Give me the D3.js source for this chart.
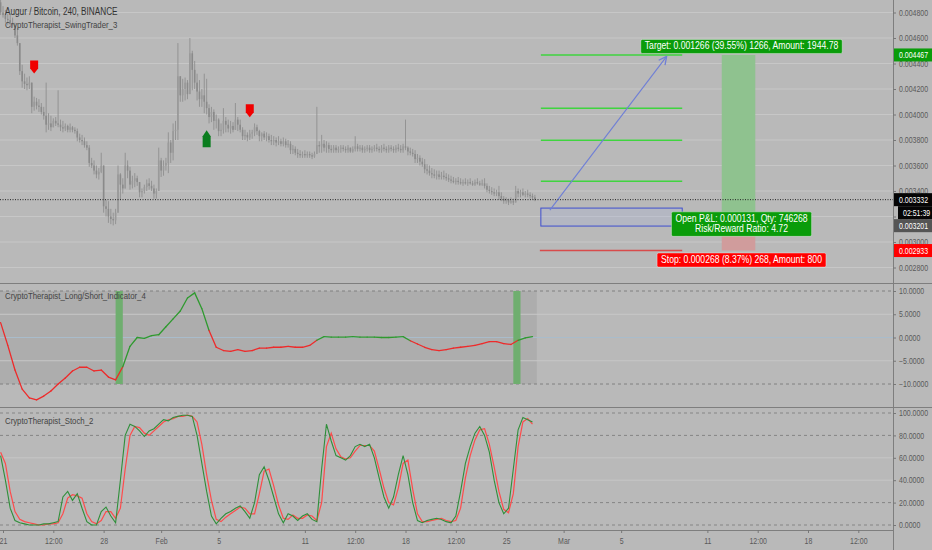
<!DOCTYPE html>
<html><head><meta charset="utf-8">
<script src="https://cdn.jsdelivr.net/npm/d3@7"></script>
<style>
html,body{margin:0;padding:0;background:#b9b9b9;}
svg{display:block;font-family:'Liberation Sans',Arial,sans-serif;}
</style></head><body><svg id="c" width="932" height="550"></svg>
<script>
// ---------- DATA ----------
const symbolTitle = "Augur / Bitcoin, 240, BINANCE";
const studyTitles = ["CryptoTherapist_SwingTrader_3", "CryptoTherapist_Long/Short_Indicator_4", "CryptoTherapist_Stoch_2"];
// 4h candles starting 2018-01-20 20:00 UTC; prices in micro-BTC (1e-6)
const candleStart = Date.UTC(2018, 0, 20, 20);
const candleHours = 4;
const firstOpen = 4880;
const closes = [
4800,4780,4750,4740,4720,4700,4620,4560,4340,4260,
4240,4230,4250,4060,4100,4070,4060,4020,3990,3920,
3930,3900,3950,3930,3920,3900,3890,3910,3880,3900,
3880,3870,3820,3800,3790,3760,3740,3620,3600,3560,
3530,3550,3600,3280,3260,3200,3180,3170,3230,3530,
3450,3420,3600,3560,3450,3480,3500,3470,3390,3400,
3430,3460,3440,3420,3380,3400,3640,3560,3600,3620,
3780,3700,3870,3880,4300,4150,4200,4250,4160,4480,
4350,4250,4180,4120,4150,4100,4050,3980,4020,3950,
3960,3870,3880,3950,3920,3890,3910,3880,3960,3920,
3880,3830,3840,3820,3850,3860,3900,3870,3830,3850,
3820,3830,3800,3790,3800,3780,3790,3770,3790,3760,
3770,3720,3730,3700,3690,3680,3690,3680,3690,3680,
3670,3690,3760,3750,3770,3740,3760,3730,3720,3740,
3720,3730,3740,3730,3720,3740,3710,3730,3750,3730,
3740,3720,3730,3740,3720,3730,3740,3730,3720,3740,
3730,3720,3740,3730,3720,3740,3730,3720,3750,3740,
3710,3700,3690,3650,3660,3630,3610,3570,3560,3540,
3530,3520,3530,3510,3520,3510,3500,3490,3480,3470,
3480,3470,3460,3470,3460,3470,3460,3450,3470,3460,
3450,3460,3440,3410,3400,3390,3380,3390,3360,3340,
3320,3330,3310,3320,3310,3400,3380,3390,3370,3380,
3370,3360,3350,3332];
const highs = [
4900,4850,4820,4790,4780,4760,4720,4680,4530,4390,
4320,4290,4300,4220,4140,4130,4120,4090,4060,4250,
4010,3990,3970,3980,4190,3960,3950,3930,3920,3930,
3910,3900,3890,3850,3840,3820,3790,3760,3660,3640,
3600,3580,3700,3420,3330,3320,3260,3230,3260,3600,
3540,3500,3700,3640,3590,3520,3540,3520,3460,3420,
3450,3490,3500,3480,3450,3420,3740,3660,3640,3660,
3860,3800,3930,3950,4560,4290,4280,4290,4270,4600,
4500,4420,4320,4270,4200,4320,4280,4080,4060,4040,
4000,3970,3930,4050,3980,3960,3950,3940,4090,3980,
3960,3900,3880,3860,3880,3880,3930,3920,3880,3860,
3870,3860,3850,3840,3830,3820,3830,3810,3820,3810,
3800,3790,3760,3750,3730,3720,3710,3720,3710,3710,
3700,3710,4060,3790,3840,3800,3790,3780,3760,3760,
3760,3750,3760,3760,3750,3760,3740,3750,3830,3770,
3760,3760,3750,3760,3760,3750,3760,3770,3750,3760,
3770,3750,3760,3760,3750,3760,3770,3760,3770,3960,
3750,3740,3730,3720,3690,3680,3660,3650,3610,3600,
3580,3570,3560,3560,3550,3560,3540,3530,3520,3510,
3500,3510,3500,3490,3500,3490,3500,3480,3490,3500,
3480,3490,3500,3460,3440,3430,3420,3410,3440,3390,
3360,3350,3340,3350,3340,3440,3420,3410,3420,3400,
3410,3390,3380,3370];
const lows = [
4780,4760,4720,4700,4690,4680,4600,4540,4310,4210,
4200,4190,4200,4010,4030,4040,4020,4000,3960,3860,
3880,3870,3910,3910,3900,3870,3860,3870,3860,3860,
3860,3850,3790,3780,3760,3740,3720,3590,3580,3530,
3500,3490,3540,3230,3200,3150,3140,3130,3140,3320,
3330,3380,3450,3500,3410,3420,3430,3440,3350,3350,
3380,3400,3410,3400,3340,3340,3400,3510,3520,3560,
3540,3620,3640,3800,3800,4100,4100,4110,4120,4240,
4190,4200,4110,4060,4060,4010,4000,3930,3940,3880,
3890,3830,3830,3850,3860,3860,3850,3860,3880,3870,
3860,3800,3800,3790,3800,3810,3830,3840,3790,3790,
3800,3790,3780,3760,3760,3750,3760,3750,3750,3740,
3740,3690,3690,3680,3660,3660,3660,3660,3660,3660,
3650,3660,3690,3700,3700,3710,3700,3700,3700,3700,
3700,3700,3700,3710,3700,3700,3700,3700,3710,3710,
3710,3700,3700,3710,3700,3700,3710,3710,3700,3700,
3710,3700,3700,3710,3700,3700,3710,3700,3700,3720,
3680,3680,3670,3620,3620,3600,3590,3540,3530,3520,
3500,3500,3490,3490,3490,3490,3480,3470,3460,3460,
3450,3450,3450,3440,3450,3440,3450,3440,3440,3450,
3440,3440,3420,3390,3380,3370,3360,3360,3330,3320,
3300,3300,3290,3300,3290,3320,3350,3350,3360,3350,
3350,3340,3330,3320];

// SwingTrader signal markers (candle index, tip price, type)
const markerIdx = [14, 104, 86];
const markerPrice = [4322, 3978, 3876];
const markerType = ["sell", "sell", "buy"];

// Long/Short indicator, sampled every 3 candles
const lsStep = 3;
const lsValues = [3.2,-1.7,-7.0,-11.1,-13.0,-13.4,-12.6,-11.5,-10.0,-8.7,
-7.2,-6.4,-6.4,-7.2,-7.0,-8.5,-9.1,-6.3,-1.9,0.0,
-0.2,0.4,0.6,2.3,4.0,5.7,8.5,9.6,6.2,1.5,
-2.1,-2.8,-3.0,-2.6,-3.0,-2.8,-2.3,-2.3,-2.1,-2.1,
-1.9,-2.1,-2.1,-1.7,-0.6,0.2,0.1,0.1,0.1,0.2,
0.1,0.1,0.1,0.0,0.0,0.1,0.2,-0.7,-1.4,-2.1,
-2.6,-2.8,-2.6,-2.3,-2.1,-1.9,-1.7,-1.3,-0.9,-0.9,
-1.3,-1.5,-0.6,-0.1,0.2];
const lsLongRanges = [[51, 87], [132, 171], [216, 223]];
const lsSignalBands = [[48, 51], [214, 217]];

// Stochastic K / D, sampled every 2 candles
const stStep = 2;
const stochK = [62,40,15,4,2,1,0,0,0,1, 1,2,3,25,30,22,28,15,3,0,
0,12,16,8,2,40,80,90,88,84, 79,84,86,90,94,93,96,97,98,98,
97,80,55,30,8,1,6,10,12,15, 17,12,6,20,45,52,40,25,10,2,
10,8,4,8,10,5,3,50,90,75, 62,60,58,62,70,72,70,72,60,42,
25,15,25,45,62,45,20,4,2,4, 5,6,5,3,2,8,30,55,70,82,
88,80,65,40,20,10,15,50,85,96, 94,92];
const stochD = [65,55,30,12,5,3,2,1,0,0, 1,1,2,10,24,27,26,24,10,3,
1,4,12,12,6,15,50,80,88,87, 82,80,84,88,92,94,95,97,97,98,
97,92,72,45,22,5,3,7,10,13, 16,15,10,10,28,48,50,35,18,6,
5,9,6,6,9,8,4,20,70,82, 68,61,59,60,66,71,71,71,66,50,
33,20,18,33,55,58,32,10,3,3, 4,5,6,4,3,4,15,42,62,76,
85,86,72,52,30,14,11,28,70,92, 95,90];

// Trade drawing (micro-BTC)
const lastPrice = 3332;
const countdownText = "02:51:39";
const entryPrice = 3201, targetPrice = 4467, stopPrice = 2933;
const levelPrices = [4467, 4049, 3798, 3477];
const levelSpan = [Date.UTC(2018,1,27,10), Date.UTC(2018,2,9,6)];
const entryBox = [3125, 3266];
const arrowFrom = [Date.UTC(2018,1,28,1), 3250];
const arrowTo = [Date.UTC(2018,2,8,4), 4456];
const positionSpan = [Date.UTC(2018,2,12,0), Date.UTC(2018,2,14,8)];
const targetText = "Target: 0.001266 (39.55%) 1266, Amount: 1944.78";
const pnlText = ["Open P&L: 0.000131, Qty: 746268", "Risk/Reward Ratio: 4.72"];
const stopText = "Stop: 0.000268 (8.37%) 268, Amount: 800";

// Axes
const priceTicks = [2800,3000,3200,3400,3600,3800,4000,4200,4400,4600,4800];
const lsTicks = [-10,-5,0,5,10];
const stochTicks = [0,20,40,60,80,100];
const timeTicks = [Date.UTC(2018,0,21),Date.UTC(2018,0,24,12),Date.UTC(2018,0,28),Date.UTC(2018,1,1),
  Date.UTC(2018,1,5),Date.UTC(2018,1,11),Date.UTC(2018,1,14,12),Date.UTC(2018,1,18),Date.UTC(2018,1,21,12),
  Date.UTC(2018,1,25),Date.UTC(2018,2,1),Date.UTC(2018,2,5),Date.UTC(2018,2,11),Date.UTC(2018,2,14,12),
  Date.UTC(2018,2,18),Date.UTC(2018,2,21,12)];
const timeLabels = ["21","12:00","28","Feb","5","11","12:00","18","12:00","25","Mar","5","11","12:00","18","12:00"];

// ---------- LAYOUT ----------
const W = 932, H = 550, AX = 893, NARROW = 0.82;
const C = {bg:"#b9b9b9", grid:"#c7c7c7", sep:"#7e7e7e", txt:"#5a5a5a", candle:"#8e8e8e",
  green:"#2f9a2f", red:"#ff4040", labGreen:"#0a9c0a"};
const svg = d3.select("#c");
svg.append("rect").attr("width",W).attr("height",H).attr("fill",C.bg);

const x = d3.scaleUtc().domain([Date.UTC(2018,0,21), Date.UTC(2018,2,18)]).range([3, 808]);
const yP = d3.scaleLinear().domain([2800, 4800]).range([267.5, 12.5]);
const yL = d3.scaleLinear().domain([-10, 10]).range([384, 291]);
const yS = d3.scaleLinear().domain([0, 100]).range([525, 413]);
const tOf = i => new Date(candleStart + i*candleHours*3600e3);

const defs = svg.append("defs");
defs.append("clipPath").attr("id","cp1").append("rect").attr("x",0).attr("y",0).attr("width",AX).attr("height",283);
defs.append("clipPath").attr("id","cp2").append("rect").attr("x",0).attr("y",284).attr("width",AX).attr("height",122);
defs.append("clipPath").attr("id","cp3").append("rect").attr("x",0).attr("y",408).attr("width",AX).attr("height",122);
defs.append("marker").attr("id","arr").attr("viewBox","0 0 10 10").attr("refX",9).attr("refY",5)
  .attr("markerWidth",9).attr("markerHeight",9).attr("orient","auto-start-reverse")
  .append("path").attr("d","M1,1 L9,5 L1,9").attr("fill","none").attr("stroke","#6f7fd6").attr("stroke-width",1.3);

// ---------- MAIN PANE ----------
const main = svg.append("g").attr("clip-path","url(#cp1)");
main.selectAll("line.g").data(priceTicks).join("line").attr("class","g")
  .attr("x1",0).attr("x2",AX).attr("y1",d=>yP(d)).attr("y2",d=>yP(d)).attr("stroke",C.grid);

const candles = closes.map((c,i)=>{
  const o = i===0 ? firstOpen : closes[i-1];
  return {t:tOf(i), o, c, h:Math.max(highs[i],o,c), l:Math.min(lows[i],o,c)};
});
const cg = main.append("g");
cg.selectAll("line").data(candles).join("line")
  .attr("x1",d=>x(d.t)).attr("x2",d=>x(d.t)).attr("y1",d=>yP(d.h)).attr("y2",d=>yP(d.l))
  .attr("stroke",C.candle).attr("stroke-width",0.9);
cg.selectAll("rect").data(candles).join("rect")
  .attr("x",d=>x(d.t)-0.8).attr("width",1.6)
  .attr("y",d=>yP(Math.max(d.o,d.c))).attr("height",d=>Math.max(1,Math.abs(yP(d.o)-yP(d.c))))
  .attr("fill",d=>d.c>=d.o?"#9a9a9a":"#8a8a8a");

// markers
markerIdx.forEach((ci,k)=>{
  const cx = x(tOf(ci)), ty = yP(markerPrice[k]);
  const d = markerType[k]==="sell"
    ? `M${cx-4},${ty-13} h8 v8 l-4,5 l-4,-5 z`
    : `M${cx},${ty} l4,6 v11 h-8 v-11 z`;
  main.append("path").attr("d",d).attr("fill",markerType[k]==="sell"?"#f00000":"#0a7d1e");
});

// trade levels
levelPrices.forEach(p=>{
  main.append("line").attr("x1",x(levelSpan[0])).attr("x2",x(levelSpan[1]))
    .attr("y1",yP(p)).attr("y2",yP(p)).attr("stroke","#3fd43f").attr("stroke-width",1.6);
});
main.append("line").attr("x1",x(levelSpan[0])-1).attr("x2",x(levelSpan[1]))
  .attr("y1",yP(stopPrice)).attr("y2",yP(stopPrice)).attr("stroke","#d84b4b").attr("stroke-width",1.6);
main.append("rect").attr("x",x(levelSpan[0])).attr("width",x(levelSpan[1])-x(levelSpan[0]))
  .attr("y",yP(entryBox[1])).attr("height",yP(entryBox[0])-yP(entryBox[1]))
  .attr("fill","rgba(170,180,215,0.3)").attr("stroke","#3f4fd0").attr("stroke-width",1);
main.append("line").attr("x1",x(arrowFrom[0])).attr("y1",yP(arrowFrom[1]))
  .attr("x2",x(arrowTo[0])).attr("y2",yP(arrowTo[1]))
  .attr("stroke","#6f7fd6").attr("stroke-width",1.1).attr("marker-end","url(#arr)");

// position tool
const px0 = x(positionSpan[0]), px1 = x(positionSpan[1]), pcx = (px0+px1)/2;
main.append("rect").attr("x",px0).attr("width",px1-px0).attr("y",yP(targetPrice))
  .attr("height",yP(entryPrice)-yP(targetPrice)).attr("fill","#8fc28f");
main.append("rect").attr("x",px0).attr("width",px1-px0).attr("y",yP(entryPrice))
  .attr("height",yP(stopPrice)-yP(entryPrice)).attr("fill","#d09c9c");

// current price dotted line
main.append("line").attr("x1",0).attr("x2",AX).attr("y1",yP(lastPrice)).attr("y2",yP(lastPrice))
  .attr("stroke","#222").attr("stroke-dasharray","1,1.5");

// narrow text helper (emulates a condensed UI font)
function narrow(sel){
  sel.each(function(){
    const L = this.getComputedTextLength();
    if(L>0) d3.select(this).attr("textLength",L*NARROW).attr("lengthAdjust","spacingAndGlyphs");
  });
  return sel;
}

// labels on the position tool
function boxLabel(lines, cx, top, fill){
  const g = svg.append("g");
  const lh = 10.5;
  const texts = lines.map((s,i)=>narrow(g.append("text").attr("x",cx).attr("y",top+10+i*lh)
    .attr("text-anchor","middle").attr("fill","#fff").attr("font-size",10.5).text(s)));
  const w = d3.max(texts,t=>+t.attr("textLength")) + 8;
  g.insert("rect","text").attr("x",cx-w/2).attr("y",top).attr("width",w).attr("height",lines.length*lh+3.5)
    .attr("rx",1.5).attr("fill",fill).attr("stroke","rgba(255,255,255,0.45)").attr("stroke-width",0.8);
}
boxLabel([targetText], pcx+3, yP(targetPrice)-15.5, C.labGreen);
boxLabel(pnlText, pcx+3, yP(entryPrice)-4.5, C.labGreen);
boxLabel([stopText], pcx+3, yP(stopPrice)+2.5, "#ff0000");

// titles
narrow(svg.append("text").attr("x",5).attr("y",15).attr("font-size",10).attr("fill","#333").text(symbolTitle));
narrow(svg.append("text").attr("x",5).attr("y",28).attr("font-size",9.5).attr("fill","#444").text(studyTitles[0]));

// ---------- LONG/SHORT PANE ----------
const ls = svg.append("g").attr("clip-path","url(#cp2)");
ls.append("rect").attr("x",0).attr("width",x(tOf(closes.length-1))+2).attr("y",yL(10)).attr("height",yL(-10)-yL(10)).attr("fill","#adadad");
ls.selectAll("line.g").data([5,-5]).join("line").attr("class","g")
  .attr("x1",0).attr("x2",AX).attr("y1",d=>yL(d)).attr("y2",d=>yL(d)).attr("stroke",C.grid);
ls.append("line").attr("x1",0).attr("x2",AX).attr("y1",yL(0)).attr("y2",yL(0)).attr("stroke","#a9bccb");
ls.selectAll("line.d").data([10,-10]).join("line").attr("class","d")
  .attr("x1",0).attr("x2",AX).attr("y1",d=>yL(d)).attr("y2",d=>yL(d))
  .attr("stroke","#808080").attr("stroke-dasharray","3,3");
ls.selectAll("rect.band").data(lsSignalBands).join("rect").attr("class","band")
  .attr("x",d=>x(tOf(d[0]))).attr("width",d=>x(tOf(d[1]))-x(tOf(d[0])))
  .attr("y",yL(10)).attr("height",yL(-10)-yL(10)).attr("fill","#6fae6f");
const lsPts = lsValues.map((v,k)=>({i:k*lsStep, v}));
const isLong = i => lsLongRanges.some(r=>i>=r[0] && i<r[1]);
for(let k=0;k<lsPts.length-1;k++){
  const a=lsPts[k], b=lsPts[k+1];
  ls.append("line").attr("x1",x(tOf(a.i))).attr("y1",yL(a.v)).attr("x2",x(tOf(b.i))).attr("y2",yL(b.v))
    .attr("stroke",isLong(a.i)?C.green:"#ee2a2a").attr("stroke-width",1.3).attr("stroke-linecap","round");
}
narrow(svg.append("text").attr("x",5).attr("y",299).attr("font-size",9.5).attr("fill","#444").text(studyTitles[1]));

// ---------- STOCH PANE ----------
const st = svg.append("g").attr("clip-path","url(#cp3)");
st.selectAll("line.g").data([60,40]).join("line").attr("class","g")
  .attr("x1",0).attr("x2",AX).attr("y1",d=>yS(d)).attr("y2",d=>yS(d)).attr("stroke",C.grid);
st.selectAll("line.d").data([100,80,20,0]).join("line").attr("class","d")
  .attr("x1",0).attr("x2",AX).attr("y1",d=>yS(d)).attr("y2",d=>yS(d))
  .attr("stroke","#858585").attr("stroke-dasharray","3,3");
const stLine = d3.line().x((d,k)=>x(tOf(k*stStep))).y(d=>yS(d));
st.append("path").attr("d",stLine(stochD)).attr("fill","none").attr("stroke","#ff4b4b").attr("stroke-width",1.2);
st.append("path").attr("d",stLine(stochK)).attr("fill","none").attr("stroke","#2f8f3a").attr("stroke-width",1.1);
narrow(svg.append("text").attr("x",5).attr("y",424).attr("font-size",9.5).attr("fill","#444").text(studyTitles[2]));

// ---------- SEPARATORS & AXES ----------
[283.5, 407.5].forEach(yy=>svg.append("line").attr("x1",0).attr("x2",W).attr("y1",yy).attr("y2",yy).attr("stroke",C.sep));
svg.append("line").attr("x1",0).attr("x2",AX).attr("y1",530.5).attr("y2",530.5).attr("stroke",C.sep);
svg.append("line").attr("x1",AX+0.5).attr("x2",AX+0.5).attr("y1",0).attr("y2",H).attr("stroke",C.sep);

function styleAxis(fs){
  return g=>{
    g.select(".domain").remove();
    g.selectAll(".tick line").attr("stroke","#777");
    narrow(g.selectAll(".tick text").attr("fill",C.txt).attr("font-size",fs).attr("font-family","inherit"));
  };
}
svg.append("g").attr("transform",`translate(${AX},0)`)
  .call(d3.axisRight(yP).tickValues(priceTicks).tickFormat(d=>(d/1e6).toFixed(6)).tickSize(3).tickPadding(3)).call(styleAxis(8.5));
svg.append("g").attr("transform",`translate(${AX},0)`)
  .call(d3.axisRight(yL).tickValues(lsTicks).tickFormat(d3.format(".4f")).tickSize(3).tickPadding(3)).call(styleAxis(8.5));
svg.append("g").attr("transform",`translate(${AX},0)`)
  .call(d3.axisRight(yS).tickValues(stochTicks).tickFormat(d3.format(".4f")).tickSize(3).tickPadding(3)).call(styleAxis(8.5));
svg.append("g").attr("transform","translate(0,530)")
  .call(d3.axisBottom(x).tickValues(timeTicks.map(t=>new Date(t))).tickFormat((d,i)=>timeLabels[i]).tickSize(3).tickPadding(5)).call(styleAxis(8.5));

// price labels on right axis
function axisLabel(yc, text, fill, x0){
  svg.append("rect").attr("x",x0).attr("y",yc-6.5).attr("width",W-x0).attr("height",13).attr("fill",fill);
  narrow(svg.append("text").attr("x",x0+5).attr("y",yc+3.2).attr("font-size",8.5).attr("fill","#fff").text(text));
}
const fmtP = p=>(p/1e6).toFixed(6);
axisLabel(yP(targetPrice), fmtP(targetPrice), C.labGreen, AX+1);
const yLast = yP(lastPrice);
axisLabel(yLast, fmtP(lastPrice), "#050505", AX+1);
axisLabel(yLast+13, countdownText, "#050505", AX+5);
axisLabel(Math.max(yP(entryPrice), yLast+26), fmtP(entryPrice), "#555", AX+1);
axisLabel(yP(stopPrice), fmtP(stopPrice), "#ff0000", AX+1);
</script></body></html>
